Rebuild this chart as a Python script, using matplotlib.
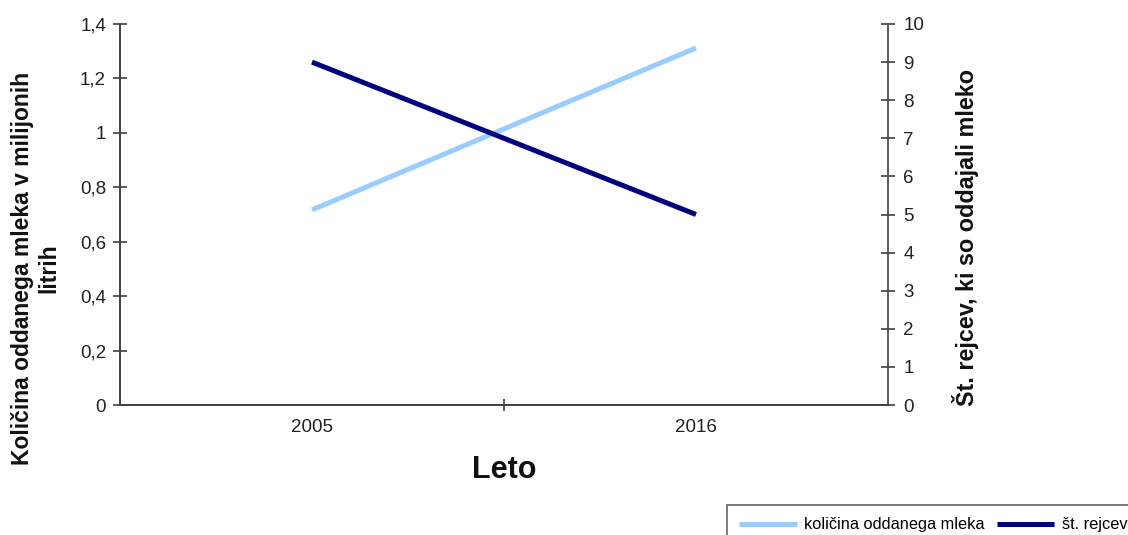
import matplotlib
matplotlib.use("Agg")
import matplotlib.pyplot as plt
from matplotlib.ticker import FixedLocator, FixedFormatter

plt.rcParams['font.family'] = ['Liberation Sans', 'DejaVu Sans']

# Data
years = ['2005', '2016']
milk = [0.717, 1.312]          # million litres
farmers = [9, 5]               # number of farmers
left_ticks = [0, 0.2, 0.4, 0.6, 0.8, 1.0, 1.2, 1.4]
left_labels = ['0', '0,2', '0,4', '0,6', '0,8', '1', '1,2', '1,4']
right_ticks = list(range(0, 11))

W, H = 1128, 535
fig = plt.figure(figsize=(W / 100, H / 100), dpi=100)
ax = fig.add_axes([120 / W, 1 - 405 / H, (888 - 120) / W, (405 - 24) / H])
ax2 = ax.twinx()

axc = '#404040'
light = '#99CCFF'
dark = '#000080'
tc = '#222222'

x = list(range(len(years)))
l1, = ax.plot(x, milk, color=light, lw=3.6, solid_capstyle='butt', label='količina oddanega mleka')
l2, = ax2.plot(x, farmers, color=dark, lw=3.6, solid_capstyle='butt', label='št. rejcev')

ax.set_xlim(-0.5, len(years) - 0.5)
ax.set_ylim(0, 1.4)
ax2.set_ylim(0, 10)

ax.xaxis.set_major_locator(FixedLocator(x))
ax.xaxis.set_major_formatter(FixedFormatter(years))
ax.xaxis.set_minor_locator(FixedLocator([i + 0.5 for i in x[:-1]]))
ax.tick_params(axis='x', which='major', length=0, pad=10, labelsize=13.5, labelcolor=tc)
ax.tick_params(axis='x', which='minor', length=9, direction='inout', color=axc, width=1.2)

ax.yaxis.set_major_locator(FixedLocator(left_ticks))
ax.yaxis.set_major_formatter(FixedFormatter(left_labels))
ax.tick_params(axis='y', length=10, direction='inout', color=axc, width=1.2, pad=5,
               labelsize=13.5, labelcolor=tc)

ax2.yaxis.set_major_locator(FixedLocator(right_ticks))
ax2.tick_params(axis='y', length=10, direction='inout', color=axc, width=1.2, pad=6,
                labelsize=13.5, labelcolor=tc)

for a in (ax, ax2):
    a.spines['top'].set_visible(False)
    for s in ('left', 'right', 'bottom'):
        a.spines[s].set_color(axc)
        a.spines[s].set_linewidth(1.2)
ax.spines['right'].set_visible(False)
ax.patch.set_visible(False)

fig.text(36 / W, 1 - 268 / H, 'Količina oddanega mleka v milijonih\nlitrih', rotation=90,
         ha='center', va='center', multialignment='center', fontsize=16.5,
         fontweight='bold', color='#111111', linespacing=1.2)
fig.text(965 / W, 1 - 238 / H, 'Št. rejcev, ki so oddajali mleko', rotation=90,
         ha='center', va='center', fontsize=16.8, fontweight='bold', color='#111111')
fig.text(504 / W, 1 - 470 / H, 'Leto', ha='center', va='center', fontsize=22,
         fontweight='bold', color='#111111')

leg = fig.legend(handles=[l1, l2], loc='upper left', bbox_to_anchor=(727 / W, 1 - 505 / H),
                 ncol=2, fontsize=11.8, handlelength=3.5, handletextpad=0.45,
                 columnspacing=0.75, borderpad=0.75, borderaxespad=0, frameon=True,
                 fancybox=False)
leg.get_frame().set_edgecolor(axc)
leg.get_frame().set_linewidth(1.2)

fig.savefig('out.png', dpi=100)
